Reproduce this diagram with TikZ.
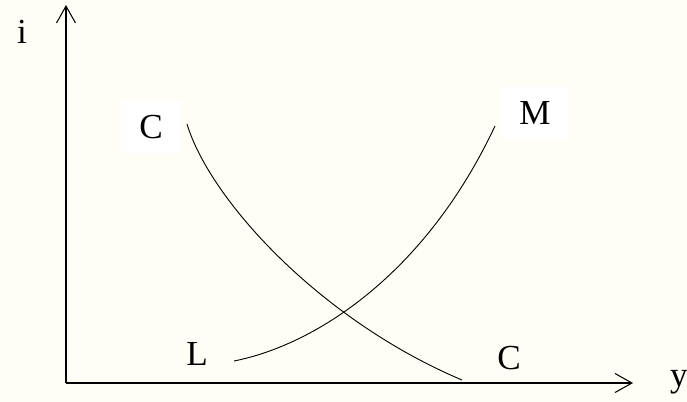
\documentclass[tikz,border=0pt]{standalone}
\usepackage{fontspec}
\setmainfont{Liberation Serif}
\usepackage{xcolor}
\usetikzlibrary{arrows.meta,positioning}
\definecolor{papercream}{RGB}{254,254,246}

\begin{document}
\begin{tikzpicture}[x=0.025cm, y=-0.025cm,
  lbl/.style={fill=white, inner xsep=13pt, inner ysep=10pt, font=\fontsize{25}{30}\selectfont},
  axis/.style={line width=0.75pt, -{Straight Barb[length=12pt,width=13.5pt,line width=0.75pt]}},
  curve/.style={line width=0.65pt}]
\fill[papercream] (0,0) rectangle (687,402);
\useasboundingbox (0,0) rectangle (687,402);
% axes
\coordinate (O) at (66,383);
\coordinate (itop) at (66,5);
\coordinate (yend) at (633,383);
\draw[axis] (O) -- (itop);
\draw[axis] (O) -- (yend);
\node[lbl, fill=none] (ilab) at (22,32) {i};
\node[lbl, fill=none] (ylab) at (679,382) {y};
% IS curve
\node[lbl] (ctop) at (151,127) {C};
\node[lbl, fill=none] (cbot) at (509,358) {C};
\coordinate (cs) at (187,124);
\coordinate (ce) at (462,380);
\draw[curve] (cs) .. controls (210,200) and (320,320) .. (ce);
% LM curve
\node[lbl] (mtop) at (535,113) {M};
\node[lbl, fill=none] (lbot) at (197,354) {L};
\coordinate (ls) at (234,361);
\coordinate (le) at (495,126);
\draw[curve] (ls) .. controls (315,345) and (425,275) .. (le);
\end{tikzpicture}
\end{document}
